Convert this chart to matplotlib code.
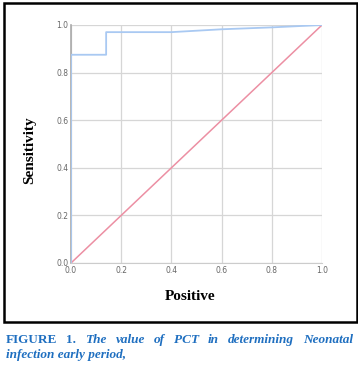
import numpy as np
import matplotlib.pyplot as plt
from matplotlib.patches import Rectangle

# ROC curve
fpr = [0.0, 0.0, 0.14, 0.14, 0.40, 0.60, 0.80, 1.0]
tpr = [0.0, 0.875, 0.875, 0.97, 0.97, 0.982, 0.99, 1.0]
ref_x = [0.0, 1.0]
ref_y = [0.0, 1.0]
ticks = [0.0, 0.2, 0.4, 0.6, 0.8, 1.0]
tick_labels = ['0.0', '0.2', '0.4', '0.6', '0.8', '1.0']

caption_head = 'FIGURE 1.'
caption_line1 = 'The value of PCT in determining Neonatal'
caption_line2 = 'infection early period,'

W, H = 358, 369
fig = plt.figure(figsize=(W / 100, H / 100), dpi=100)
fig.patch.set_facecolor('white')

# black frame around the chart
fig.patches.append(Rectangle((3.5 / W, 1 - 322 / H), 353 / W, 319 / H,
                             transform=fig.transFigure, fill=False,
                             edgecolor='black', linewidth=1.8))

ax = fig.add_axes([71 / W, 1 - 263 / H, 251 / W, 238 / H])
ax.plot(ref_x, ref_y, color='#ec8fa3', linewidth=1.1, zorder=3)
ax.plot(fpr, tpr, color='#a9c9f2', linewidth=1.3, zorder=4)
ax.set_xlim(0, 1)
ax.set_ylim(0, 1)
ax.set_xticks(ticks)
ax.set_yticks(ticks)
ax.set_xticklabels(tick_labels)
ax.set_yticklabels(tick_labels)
ax.tick_params(length=0, labelsize=5.5, labelcolor='#666666', pad=2)
ax.grid(True, color='#d6d6d6', linewidth=0.9)
for side in ['top', 'right']:
    ax.spines[side].set_visible(False)
ax.spines['left'].set_color('#aaaaaa')
ax.spines['bottom'].set_color('#cccccc')
ax.spines['left'].set_linewidth(1.2)

fig.text(30 / W, 1 - 150 / H, 'Sensitivity', rotation=90, ha='center', va='center',
         family='Liberation Serif', fontweight='bold', fontsize=11)
fig.text(190 / W, 1 - 296 / H, 'Positive', ha='center', va='center',
         family='Liberation Serif', fontweight='bold', fontsize=11)

# justified caption
blue = '#1f6fc0'
fig.canvas.draw()
r = fig.canvas.get_renderer()
words = [(w, 'normal') for w in caption_head.split()] + [(w, 'italic') for w in caption_line1.split()]
arts = []
for w, st in words:
    t = fig.text(0, 1 - 340 / H, w, family='Liberation Serif', fontweight='bold',
                 style=st, fontsize=9.5, color=blue, va='center', ha='left')
    arts.append(t)
widths = [a.get_window_extent(r).width for a in arts]
x0, x1 = 6.0, 353.0
gap = (x1 - x0 - sum(widths)) / (len(arts) - 1)
x = x0
for a, wd in zip(arts, widths):
    a.set_x(x / W)
    x += wd + gap
fig.text(x0 / W, 1 - 355 / H, caption_line2, family='Liberation Serif', fontweight='bold',
         style='italic', fontsize=9.5, color=blue, va='center', ha='left')

fig.savefig('out.png', dpi=100)
